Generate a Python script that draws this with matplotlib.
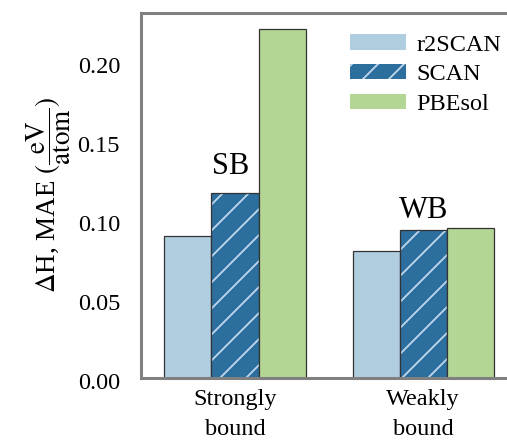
import matplotlib.pyplot as plt
import matplotlib.transforms as mtransforms
import numpy as np

# dpi 78 so the hatch spacing comes out like the reference (~13 px)
DPI = 78
K = 100 / DPI  # font/line sizes were tuned at 100 dpi

plt.rcParams['font.family'] = ['Liberation Serif', 'DejaVu Serif']
plt.rcParams['mathtext.fontset'] = 'stix'
plt.rcParams['hatch.linewidth'] = 1.7

groups = ['Strongly\nbound', 'Weakly\nbound']
group_tags = ['SB', 'WB']
methods = ['r2SCAN', 'SCAN', 'PBEsol']
r2scan = [0.090, 0.080]
scan = [0.117, 0.0935]
pbesol = [0.221, 0.095]

colors = ['#b1cee0', '#2c6e9e', '#b3d694']
hatches = ['', '/', '']
hatch_col = (0.74, 0.84, 0.92, 1.0)

fig = plt.figure(figsize=(507 / DPI, 441 / DPI), dpi=DPI)
ax = fig.add_axes([0.278, 0.143, 0.742, 0.828])

x = np.arange(len(groups))
w = 0.25
for i, (vals, c, h, lab) in enumerate(zip([r2scan, scan, pbesol], colors, hatches, methods)):
    ax.bar(x + (i - 1) * w, vals, w, color=c, edgecolor='#333333', linewidth=0.9 * K,
           hatch=h, label=lab)
for b in ax.containers[1]:
    b._hatch_color = hatch_col

ax.text(x[0] - 0.025, 0.134, group_tags[0], ha='center', va='center', fontsize=22 * K)
ax.text(x[1], 0.106, group_tags[1], ha='center', va='center', fontsize=22 * K)

ax.set_xlim(-0.5, 1.5)
ax.set_ylim(0, 0.231)
ax.set_yticks([0, 0.05, 0.10, 0.15, 0.20])
ax.set_yticklabels(['0.00', '0.05', '0.10', '0.15', '0.20'])
ax.set_xticks(x)
ax.set_xticklabels(groups)
ax.tick_params(length=0, labelsize=17.5 * K)
ax.tick_params(axis='y', pad=15 * K)
ax.tick_params(axis='x', pad=8 * K)
# y tick labels sit a few px lower than the gridline in the reference
off = mtransforms.ScaledTranslation(0, -3 / DPI, fig.dpi_scale_trans)
for t in ax.get_yticklabels():
    t.set_transform(t.get_transform() + off)
for t in ax.get_xticklabels():
    t.set_linespacing(1.55)
for s in ax.spines.values():
    s.set_color('#808080')
    s.set_linewidth(2.2 * K)

ax.set_ylabel(r'$\Delta$H, MAE $(\dfrac{\mathrm{eV}}{\mathrm{atom}})$', fontsize=19.5 * K, labelpad=3 * K)

leg = ax.legend(loc='upper left', bbox_to_anchor=(0.647, 0.972), bbox_transform=fig.transFigure,
                frameon=False, fontsize=17.5 * K, handlelength=2.3, handleheight=0.6,
                handletextpad=0.45, labelspacing=0.35)
for p in leg.get_patches():
    p.set_edgecolor('none')
leg.get_patches()[1]._hatch_color = hatch_col

fig.savefig('out.png', dpi=DPI)
